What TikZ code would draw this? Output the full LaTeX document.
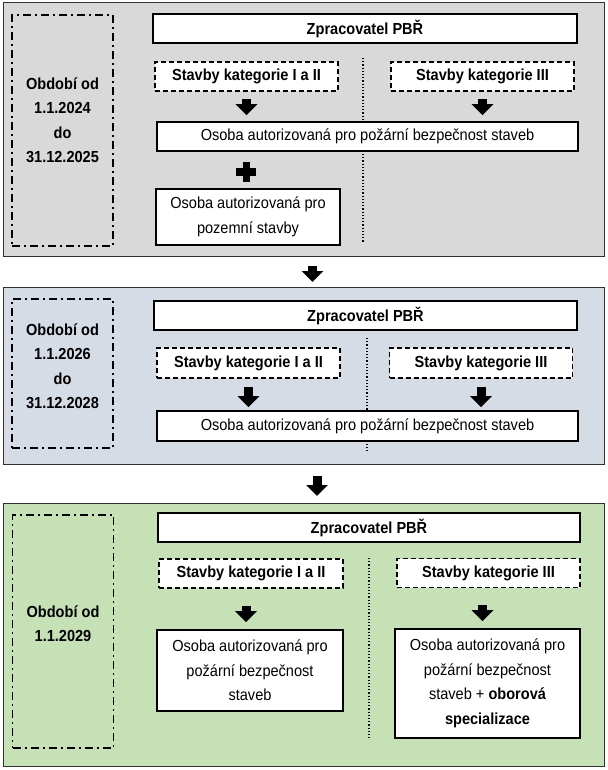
\documentclass[tikz,border=0pt]{standalone}
\usepackage{fontspec}
\setmainfont{Liberation Sans}[FakeStretch=0.91]
\usetikzlibrary{arrows.meta}
\definecolor{panelgray}{RGB}{217, 217, 217}
\definecolor{panelblue}{RGB}{214, 220, 229}
\definecolor{panelgreen}{RGB}{199, 225, 183}
\definecolor{framegray}{RGB}{50, 50, 50}
\newcommand{\diagfont}{\fontsize{16}{24.5}\selectfont}

\begin{document}
\begin{tikzpicture}[
			x=1pt, y=-1pt,
			panel/.style={draw=framegray, line width=1pt, rectangle, inner sep=0pt, minimum width=601pt},
			periodbox/.style={draw=black, line width=1.6pt, dash pattern=on 8pt off 4pt on 2pt off 4pt, rectangle, inner sep=0pt, minimum width=101pt},
			periodtext/.style={align=center, font=\diagfont\bfseries},
			headbox/.style={draw=black, line width=1.6pt, fill=white, rectangle, inner sep=0pt, minimum height=29pt, font=\diagfont\bfseries},
			catbox/.style={draw=black, line width=1.6pt, dash pattern=on 5pt off 3pt, fill=white, rectangle, inner sep=0pt, minimum width=183pt, minimum height=29pt, font=\diagfont\bfseries},
			personbox/.style={draw=black, line width=1.6pt, fill=white, rectangle, inner sep=0pt, align=center, font=\diagfont},
			divider/.style={draw=black, line width=1.2pt, dotted},
			blockarrow/.style={draw=black, line width=9pt, -{Triangle[width=21pt, length=11pt]}}
			]
			\useasboundingbox (0,0) rectangle (607,770);
			
			% Období 1.1.2024 - 31.12.2025
			\node[panel, fill=panelgray, minimum height=253pt] (panel1) at (303.5,129.5) {};
			\draw[divider] (363,58) -- (363,242);
			\node[periodbox, minimum height=231pt] (per1) at (62.5,130.5) {};
			\node[periodtext] (per1txt) at (62.5,120) {Období od\\1.1.2024\\do\\31.12.2025};
			\node[headbox, minimum width=424pt] (zp1) at (365,28.5) {Zpracovatel PBŘ};
			\node[catbox] (sa1) at (246.5,76.5) {Stavby kategorie I a II};
			\node[catbox] (sb1) at (482.5,76.5) {Stavby kategorie III};
			\node[personbox, minimum width=421pt, minimum height=29pt] (os1) at (367.5,136.5) {Osoba autorizovaná pro požární bezpečnost staveb};
			\node[personbox, minimum width=184pt, minimum height=56pt] (poz1) at (248,217) {Osoba autorizovaná pro\\pozemní stavby};
			\node[inner sep=0pt, minimum size=20pt] (plus1) at (246,172) {};
			\fill[black] ([xshift=-10pt, yshift=-3.5pt]plus1.center) rectangle ([xshift=10pt, yshift=3.5pt]plus1.center);
			\fill[black] ([xshift=-3.5pt, yshift=-10pt]plus1.center) rectangle ([xshift=3.5pt, yshift=10pt]plus1.center);
			\draw[blockarrow, shorten <=7pt, shorten >=6pt] (sa1.south) -- (sa1.south |- os1.north);
			\draw[blockarrow, shorten <=7pt, shorten >=6pt] (sb1.south) -- (sb1.south |- os1.north);
			
			% mezi obdobími
			\draw[blockarrow, shorten <=9pt, shorten >=5pt] ([xshift=9pt]panel1.south) -- ([xshift=9pt]panel1.south |- 0,287);
			
			% Období 1.1.2026 - 31.12.2028
			\node[panel, fill=panelblue, minimum height=177pt] (panel2) at (303.5,375.5) {};
			\draw[divider] (367,338) -- (367,452);
			\node[periodbox, minimum height=149pt] (per2) at (62.5,373.5) {};
			\node[periodtext] (per2txt) at (62.5,366) {Období od\\1.1.2026\\do\\31.12.2028};
			\node[headbox, minimum width=423pt] (zp2) at (365.5,315.5) {Zpracovatel PBŘ};
			\node[catbox, minimum height=30pt] (sa2) at (248.5,363) {Stavby kategorie I a II};
			\node[catbox, minimum height=30pt] (sb2) at (481,363) {Stavby kategorie III};
			\node[personbox, minimum width=421pt, minimum height=30pt] (os2) at (367.5,426) {Osoba autorizovaná pro požární bezpečnost staveb};
			\draw[blockarrow, shorten <=8pt, shorten >=3pt] (sa2.south) -- (sa2.south |- os2.north);
			\draw[blockarrow, shorten <=8pt, shorten >=3pt] (sb2.south) -- (sb2.south |- os2.north);
			
			% mezi obdobími
			\draw[blockarrow, shorten <=11pt, shorten >=7pt] ([xshift=13.5pt]panel2.south) -- ([xshift=13.5pt]panel2.south |- 0,503);
			
			% Období od 1.1.2029
			\node[panel, fill=panelgreen, minimum height=263pt] (panel3) at (303.5,634.5) {};
			\draw[divider] (369,558) -- (369,738);
			\node[periodbox, minimum height=233pt] (per3) at (63,631.5) {};
			\node[periodtext] (per3txt) at (63,623.5) {Období od\\1.1.2029};
			\node[headbox, minimum width=422pt] (zp3) at (369,527.5) {Zpracovatel PBŘ};
			\node[catbox, minimum width=184pt] (sa3) at (251,573.5) {Stavby kategorie I a II};
			\node[catbox] (sb3) at (488.5,573) {Stavby kategorie III};
			\node[personbox, minimum width=186pt, minimum height=81pt] (os3a) at (250,670.5) {Osoba autorizovaná pro\\požární bezpečnost\\staveb};
			\node[personbox, minimum width=185pt, minimum height=109pt] (os3b) at (487.5,683.5) {Osoba autorizovaná pro\\požární bezpečnost\\staveb + \textbf{oborová}\\\textbf{specializace}};
			\draw[blockarrow, shorten <=17pt, shorten >=7pt] ([xshift=-5pt]sa3.south) -- ([xshift=-5pt]sa3.south |- os3a.north);
			\draw[blockarrow, shorten <=17pt, shorten >=7pt] ([xshift=-6pt]sb3.south) -- ([xshift=-6pt]sb3.south |- os3b.north);
			
		\end{tikzpicture}
\end{document}
